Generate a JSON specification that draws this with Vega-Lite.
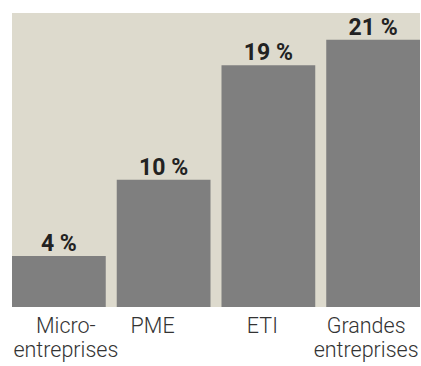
{
  "$schema": "https://vega.github.io/schema/vega-lite/v6.json",
  "width": 408,
  "height": 294,
  "autosize": {"type": "none"},
  "padding": {"left": 12, "top": 13, "right": 1, "bottom": 59},
  "background": "#ffffff",
  "config": {
    "view": {"fill": "#dddacd", "stroke": null},
    "font": "Roboto"
  },
  "data": {
    "values": [
      {"cat": "Micro-|entreprises", "value": 4, "label": "4 %"},
      {"cat": "PME", "value": 10, "label": "10 %"},
      {"cat": "ETI", "value": 19, "label": "19 %"},
      {"cat": "Grandes|entreprises", "value": 21, "label": "21 %"}
    ]
  },
  "encoding": {
    "x": {
      "field": "cat",
      "type": "nominal",
      "sort": null,
      "scale": {"paddingInner": 0.105, "paddingOuter": 0},
      "axis": {
        "title": null,
        "domain": false,
        "ticks": false,
        "labelAngle": 0,
        "labelPadding": 8,
        "labelFontSize": 21.5,
        "labelFont": "Roboto",
        "labelFontWeight": 300,
        "labelColor": "#333333",
        "labelLineHeight": 24,
        "labelOverlap": false,
        "labelBound": false,
        "labelExpr": "split(datum.label, '|')",
        "labelOffset": {
          "condition": [
            {"test": "datum.value === 'Micro-|entreprises'", "value": 7},
            {"test": "datum.value === 'PME'", "value": -11},
            {"test": "datum.value === 'ETI'", "value": -6}
          ],
          "value": -7
        }
      }
    },
    "y": {
      "field": "value",
      "type": "quantitative",
      "scale": {"domain": [0, 23.1], "nice": false},
      "axis": null
    }
  },
  "layer": [
    {"mark": {"type": "bar", "color": "#7f7f7f"}},
    {
      "mark": {"type": "text", "baseline": "alphabetic", "dy": -5, "fontSize": 23, "fontWeight": "bold", "color": "#222222", "font": "Roboto", "letterSpacing": -0.6},
      "encoding": {"text": {"field": "label"}}
    }
  ]
}
